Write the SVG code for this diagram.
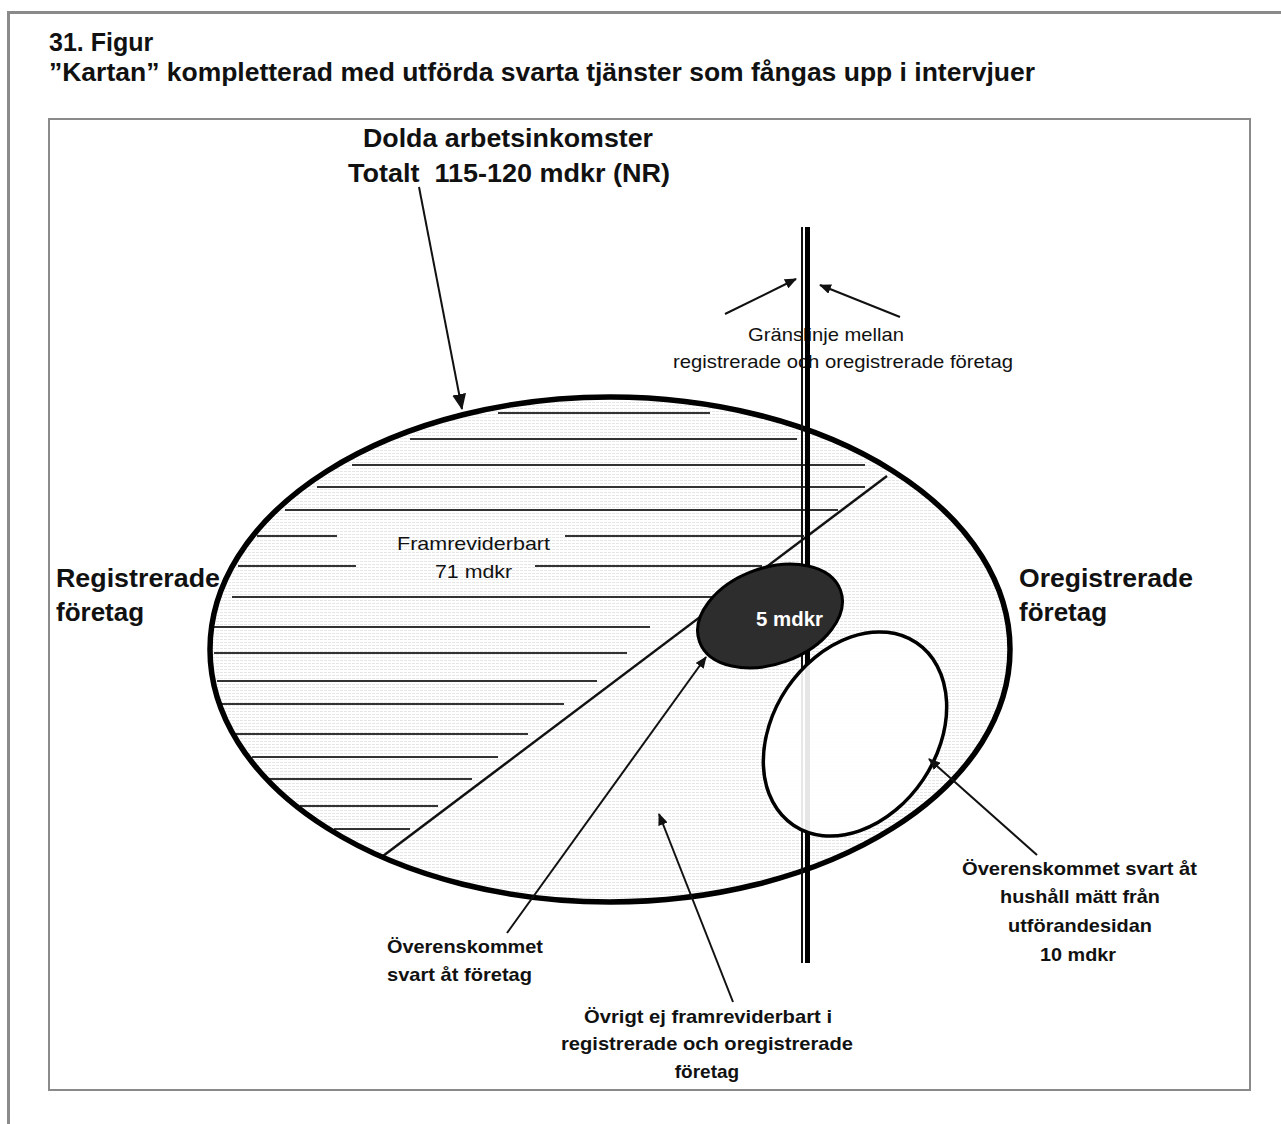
<svg xmlns="http://www.w3.org/2000/svg" width="1281" height="1124" viewBox="0 0 1281 1124">
<defs>
<style>
text{font-family:"Liberation Sans",Arial,Helvetica,sans-serif;fill:#111}
.b26{font-size:26px;font-weight:bold}
.b25{font-size:25px;font-weight:bold}
.b19{font-size:19px;font-weight:bold}
.r19{font-size:19px}
.hatch line{stroke:#333;stroke-width:2}
.conn line{stroke:#111;stroke-width:2;fill:none}
</style>
<pattern id="dots" width="4" height="3" patternUnits="userSpaceOnUse">
<rect width="4" height="3" fill="#fff"/>
<rect x="0" y="0" width="3" height="1" fill="#e6e6e6"/>
</pattern>
<marker id="ah" viewBox="0 0 12 10" refX="11" refY="5" markerWidth="12" markerHeight="10" markerUnits="userSpaceOnUse" orient="auto">
<path d="M0,0 L12,5 L0,10 z" fill="#111"/>
</marker>
<marker id="ahb" viewBox="0 0 16 14" refX="15" refY="7" markerWidth="16" markerHeight="14" markerUnits="userSpaceOnUse" orient="auto">
<path d="M0,0 L16,7 L0,14 z" fill="#111"/>
</marker>
</defs>
<rect width="1281" height="1124" fill="#fff"/>
<path d="M8.5,1124 V12.5 H1281" fill="none" stroke="#8a8a8a" stroke-width="3"/>
<rect x="49" y="119" width="1201" height="971" fill="none" stroke="#8a8a8a" stroke-width="2"/>

<g id="title">
<text class="b25" x="49" y="51">31. Figur</text>
<text class="b25" x="49" y="81" textLength="986" lengthAdjust="spacingAndGlyphs">”Kartan” kompletterad med utförda svarta tjänster som fångas upp i intervjuer</text>
</g>

<g id="total">
<ellipse cx="610" cy="649.5" rx="400" ry="252.5" fill="url(#dots)" stroke="none"/>
<g class="hatch">
<line x1="498" y1="413" x2="710" y2="413"/>
<line x1="410" y1="439" x2="797" y2="439"/>
<line x1="352" y1="465" x2="865" y2="465"/>
<line x1="317" y1="487" x2="865" y2="487"/>
<line x1="285" y1="510" x2="838" y2="510"/>
<line x1="257" y1="536" x2="337" y2="536"/>
<line x1="565" y1="536" x2="804" y2="536"/>
<line x1="238" y1="566" x2="356" y2="566"/>
<line x1="535" y1="566" x2="762" y2="566"/>
<line x1="232" y1="597" x2="726" y2="597"/>
<line x1="213" y1="627" x2="650" y2="627"/>
<line x1="214" y1="653" x2="627" y2="653"/>
<line x1="217" y1="681" x2="597" y2="681"/>
<line x1="222" y1="704" x2="564" y2="704"/>
<line x1="236" y1="734" x2="528" y2="734"/>
<line x1="252" y1="757" x2="498" y2="757"/>
<line x1="269" y1="779" x2="472" y2="779"/>
<line x1="300" y1="806" x2="438" y2="806"/>
<line x1="334" y1="829" x2="410" y2="829"/>
</g>
<line x1="383" y1="856" x2="887" y2="476" stroke="#111" stroke-width="2.5"/>
<ellipse cx="610" cy="649.5" rx="400" ry="252.5" fill="none" stroke="#000" stroke-width="5.5"/>
<text class="b26" x="363" y="147" textLength="290" lengthAdjust="spacingAndGlyphs">Dolda arbetsinkomster</text>
<text class="b26" x="348" y="182" textLength="322" lengthAdjust="spacingAndGlyphs" xml:space="preserve">Totalt  115-120 mdkr (NR)</text>
</g>

<g id="framreviderbart">
<text class="r19" x="397" y="550" textLength="153" lengthAdjust="spacingAndGlyphs">Framreviderbart</text>
<text class="r19" x="435" y="578" textLength="77" lengthAdjust="spacingAndGlyphs">71 mdkr</text>
</g>

<g id="granslinje">
<text class="r19" x="748" y="341" textLength="156" lengthAdjust="spacingAndGlyphs">Gränslinje mellan</text>
<text class="r19" x="673" y="368" textLength="340" lengthAdjust="spacingAndGlyphs">registrerade och oregistrerade företag</text>
<line x1="802" y1="227" x2="802" y2="963" stroke="#111" stroke-width="2"/>
<line x1="807.5" y1="227" x2="807.5" y2="963" stroke="#000" stroke-width="5"/>
</g>

<g id="svart-foretag">
<ellipse cx="770" cy="616" rx="75" ry="48" transform="rotate(-20 770 616)" fill="#2d2d2d" stroke="#000" stroke-width="3"/>
<text x="756" y="626" style="font-size:20px;font-weight:bold;fill:#fff" textLength="67" lengthAdjust="spacingAndGlyphs">5 mdkr</text>
</g>

<g id="hushall">
<ellipse cx="855" cy="734" rx="110" ry="82" transform="rotate(-56 855 734)" fill="#fff" fill-opacity="0.9" stroke="#000" stroke-width="3.5"/>
</g>

<g id="registrerade">
<text class="b26" x="56" y="587" textLength="164" lengthAdjust="spacingAndGlyphs">Registrerade</text>
<text class="b26" x="56" y="621">företag</text>
</g>

<g id="oregistrerade">
<text class="b26" x="1019" y="587" textLength="174" lengthAdjust="spacingAndGlyphs">Oregistrerade</text>
<text class="b26" x="1019" y="621">företag</text>
</g>

<g id="label-foretag">
<text class="b19" x="387" y="953" textLength="156" lengthAdjust="spacingAndGlyphs">Överenskommet</text>
<text class="b19" x="387" y="981" textLength="145" lengthAdjust="spacingAndGlyphs">svart åt företag</text>
</g>

<g id="label-ovrigt">
<text class="b19" x="584" y="1023" textLength="248" lengthAdjust="spacingAndGlyphs">Övrigt ej framreviderbart i</text>
<text class="b19" x="561" y="1050" textLength="292" lengthAdjust="spacingAndGlyphs">registrerade och oregistrerade</text>
<text class="b19" x="707" y="1078" text-anchor="middle">företag</text>
</g>

<g id="label-hushall">
<text class="b19" x="962" y="875" textLength="235" lengthAdjust="spacingAndGlyphs">Överenskommet svart åt</text>
<text class="b19" x="1000" y="903" textLength="160" lengthAdjust="spacingAndGlyphs">hushåll mätt från</text>
<text class="b19" x="1008" y="932" textLength="144" lengthAdjust="spacingAndGlyphs">utförandesidan</text>
<text class="b19" x="1040" y="961" textLength="76" lengthAdjust="spacingAndGlyphs">10 mdkr</text>
</g>

<g id="connectors" class="conn">
<line x1="419" y1="187" x2="462" y2="409" stroke-width="2.5" marker-end="url(#ahb)"/>
<line x1="725" y1="314" x2="796" y2="279" marker-end="url(#ah)"/>
<line x1="900" y1="317" x2="820" y2="285" marker-end="url(#ah)"/>
<line x1="507" y1="933" x2="706" y2="657" marker-end="url(#ah)"/>
<line x1="733" y1="1002" x2="659" y2="814" marker-end="url(#ah)"/>
<line x1="1037" y1="855" x2="929" y2="759" marker-end="url(#ah)"/>
</g>
</svg>
